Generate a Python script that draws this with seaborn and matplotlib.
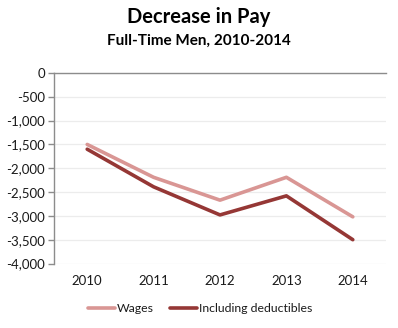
import matplotlib
matplotlib.use("Agg")
import matplotlib.pyplot as plt
import seaborn as sns
import pandas as pd
from matplotlib.ticker import FuncFormatter, FixedLocator

years = ["2010", "2011", "2012", "2013", "2014"]
wages = [-1500, -2190, -2670, -2190, -3020]
incl_deductibles = [-1600, -2390, -2980, -2580, -3500]
series_names = ["Wages", "Including deductibles"]
colors = ["#d99694", "#953735"]

df = pd.DataFrame({
    "Year": years * 2,
    "Value": wages + incl_deductibles,
    "Series": [series_names[0]] * len(years) + [series_names[1]] * len(years),
})
df["x"] = list(range(len(years))) * 2

sns.set_theme(style="white")
plt.rcParams["font.family"] = ["Lato", "DejaVu Sans"]

fig = plt.figure(figsize=(3.98, 3.28), dpi=100)
ax = fig.add_axes([54 / 398, 1 - 263.5 / 328, 332 / 398, 190.5 / 328])

sns.lineplot(data=df, x="x", y="Value", hue="Series", palette=colors,
             linewidth=2.6, ax=ax, legend=True)

ax.set_xlim(-0.5, len(years) - 0.5)
ax.set_ylim(-4000, 0)
ax.set_xticks(range(len(years)))
ax.set_xticklabels(years)
ax.yaxis.set_major_locator(FixedLocator(range(-4000, 1, 500)))
ax.yaxis.set_major_formatter(FuncFormatter(lambda v, p: f"{int(v):,}"))
ax.grid(axis="y", color="#ececec", linewidth=0.9)
ax.set_axisbelow(True)
for s in ["right", "bottom"]:
    ax.spines[s].set_visible(False)
for s in ["left", "top"]:
    ax.spines[s].set_color("#8c8c8c")
    ax.spines[s].set_linewidth(1.0)
ax.tick_params(axis="y", which="major", left=True, length=4, width=1, color="#8c8c8c",
               labelsize=9.5, labelcolor="#1a1a1a", pad=2.5)
ax.tick_params(axis="x", bottom=False, length=0, labelsize=9.5, labelcolor="#1a1a1a", pad=8)
ax.set_xlabel("")
ax.set_ylabel("")

leg = ax.legend(loc="center", bbox_to_anchor=(0.44, (263.5 - 309) / 190.5), ncol=2, frameon=False,
                fontsize=8.8, handlelength=2.2, handletextpad=0.1, columnspacing=1.4)
for t in leg.get_texts():
    t.set_color("#1a1a1a")

fig.text(0.5, 1 - 17 / 328, "Decrease in Pay", ha="center", va="center",
         fontsize=14.5, fontweight="bold", color="#000000")
fig.text(0.5, 1 - 41 / 328, "Full-Time Men, 2010-2014", ha="center", va="center",
         fontsize=11, fontweight="bold", color="#000000")

fig.savefig("out.png", dpi=100)
